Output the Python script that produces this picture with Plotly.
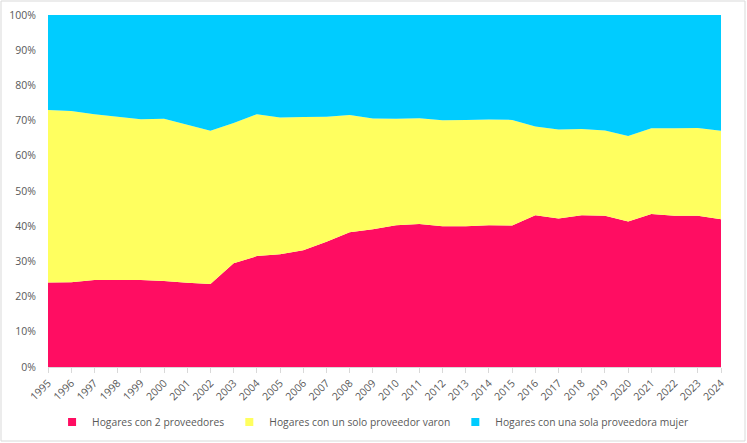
import plotly.graph_objects as go

years = [str(y) for y in range(1995, 2025)]
dos_proveedores = [24.0, 24.1, 24.7, 24.7, 24.7, 24.4, 23.9, 23.6, 29.5, 31.5,
                   32.0, 33.2, 35.6, 38.3, 39.1, 40.3, 40.6, 40.0, 40.0, 40.3,
                   40.2, 43.1, 42.2, 43.1, 43.0, 41.3, 43.5, 43.0, 43.0, 42.0]
top_varon = [73.0, 72.7, 71.8, 71.1, 70.4, 70.5, 68.8, 67.1, 69.3, 71.8,
             70.9, 71.0, 71.1, 71.6, 70.6, 70.5, 70.7, 70.1, 70.2, 70.3,
             70.2, 68.3, 67.5, 67.6, 67.2, 65.6, 67.8, 67.8, 67.9, 67.1]
solo_varon = [round(t - d, 1) for t, d in zip(top_varon, dos_proveedores)]
sola_mujer = [round(100 - t, 1) for t in top_varon]

names = ["Hogares con 2 proveedores", "Hogares con un solo proveedor varon",
         "Hogares con una sola proveedora mujer"]
colors = ["#FF0D62", "#FFFF5F", "#00CCFF"]
series = [dos_proveedores, solo_varon, sola_mujer]

fig = go.Figure()
for name, col, vals in zip(names, colors, series):
    fig.add_trace(go.Scatter(x=years, y=vals, name=name, stackgroup="one",
                             mode="none", fillcolor=col, line=dict(width=0),
                             showlegend=False))
for name, col in zip(names, colors):
    fig.add_trace(go.Scatter(x=[None], y=[None], name=name, mode="markers",
                             marker=dict(symbol="square", size=8, color=col)))

fig.update_layout(
    width=747, height=443,
    margin=dict(l=48, r=26, t=15, b=76, autoexpand=False),
    paper_bgcolor="white", plot_bgcolor="white",
    font=dict(family="Open Sans", size=10.5, color="#595959"),
    legend=dict(orientation="h", x=0.483, xanchor="center", y=-0.156,
                yanchor="middle", traceorder="normal",
                font=dict(size=10.3), itemwidth=30),
    xaxis=dict(type="category", range=[0, 29], tickangle=-45, showgrid=False,
               showline=True, linecolor="#D9D9D9", ticks="outside", ticklen=5,
               tickcolor="#D9D9D9", automargin=False),
    yaxis=dict(range=[0, 100], dtick=10, ticksuffix="%", showgrid=False,
               showline=False, zeroline=False, automargin=False, ticklen=9,
               ticks="outside", tickcolor="white"),
    shapes=[dict(type="rect", xref="paper", yref="paper",
                 x0=(1 - 48) / 673, x1=(745 - 48) / 673,
                 y0=(367 - 441) / 352, y1=(367 - 1) / 352,
                 line=dict(color="#D9D9D9", width=1), fillcolor="rgba(0,0,0,0)")],
)

fig.write_html("out.html")
